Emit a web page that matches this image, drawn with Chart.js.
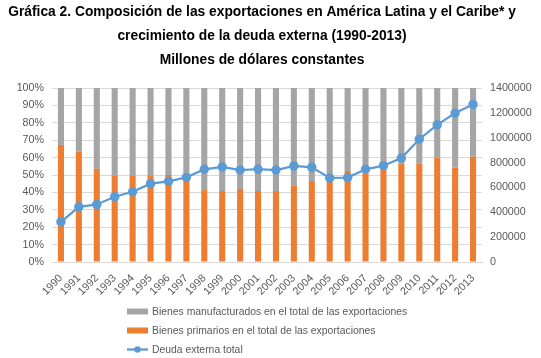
<!DOCTYPE html>
<html>
<head>
<meta charset="utf-8">
<script src="https://cdn.jsdelivr.net/npm/chart.js@4/dist/chart.umd.min.js"></script>
<style>
  html, body { margin: 0; padding: 0; background: #ffffff; }
  #wrap { width: 541px; height: 358px; position: relative; }
</style>
</head>
<body>
<div id="wrap"><canvas id="c" width="541" height="358"></canvas></div>
<script>
// ---- Data ----
const years = ['1990','1991','1992','1993','1994','1995','1996','1997','1998','1999','2000','2001',
               '2002','2003','2004','2005','2006','2007','2008','2009','2010','2011','2012','2013'];
// Share of primary goods in total exports (%)
const primarios = [67.3, 63.4, 53.5, 49.4, 49.4, 49.4, 50.0, 47.5, 41.3, 40.8, 41.9, 40.8,
                   40.8, 43.8, 46.5, 46.8, 52.3, 51.0, 54.3, 56.4, 56.4, 60.0, 54.2, 60.5];
// Share of manufactured goods in total exports (%)
const manufacturados = [32.7, 36.6, 46.5, 50.6, 50.6, 50.6, 50.0, 52.5, 58.7, 59.2, 58.1, 59.2,
                        59.2, 56.2, 53.5, 53.2, 47.7, 49.0, 45.7, 43.6, 43.6, 40.0, 45.8, 39.5];
// Total external debt (millions of constant dollars)
const deuda = [323000, 444000, 463000, 525000, 565000, 630000, 649000, 681000, 746000, 765000, 740000, 748000,
               740000, 773000, 762000, 676000, 679000, 746000, 775000, 837000, 988000, 1104000, 1198000, 1268000];
const titleLines = ['Gráfica 2. Composición de las exportaciones en América Latina y el Caribe* y',
                    'crecimiento de la deuda externa (1990-2013)',
                    'Millones de dólares constantes'];
const labels = {
  manuf: 'Bienes manufacturados en el total de las exportaciones',
  prim: 'Bienes primarios en el total de las exportaciones',
  deuda: 'Deuda externa total'
};

const FONT = '"Liberation Sans", Arial, sans-serif';
const TXT = '#595959';
const GRID = '#d9d9d9';

// custom vertical legend drawn on the canvas
const vLegend = {
  id: 'vLegend',
  afterLayout(chart) {
    // the original title is centred slightly left of the page centre
    if (chart.titleBlock) chart.titleBlock.right = chart.titleBlock.left + 524;
  },
  afterDraw(chart) {
    const ctx = chart.ctx;
    const ds = chart.data.datasets;
    const order = [1, 0, 2];
    const ys = [311.5, 330.5, 349.5];
    const x0 = 127, bw = 21;
    ctx.save();
    ctx.font = '10.4px ' + FONT;
    ctx.fillStyle = TXT;
    ctx.textBaseline = 'middle';
    order.forEach((i, k) => {
      const d = ds[i];
      const y = ys[k];
      if (d.type === 'line') {
        ctx.strokeStyle = d.borderColor;
        ctx.lineWidth = 2.25;
        ctx.beginPath(); ctx.moveTo(x0, y); ctx.lineTo(x0 + bw, y); ctx.stroke();
        ctx.fillStyle = d.pointBackgroundColor;
        ctx.beginPath(); ctx.arc(x0 + bw / 2, y, 3.2, 0, Math.PI * 2); ctx.fill();
      } else {
        ctx.fillStyle = d.backgroundColor;
        ctx.fillRect(x0, y - 3, bw, 6);
      }
      ctx.fillStyle = TXT;
      ctx.fillText(d.label, x0 + bw + 4, y + 0.5);
    });
    ctx.restore();
  }
};

new Chart(document.getElementById('c'), {
  data: {
    labels: years,
    datasets: [
      { type: 'bar', label: labels.prim, data: primarios, backgroundColor: '#ed7d31',
        yAxisID: 'y', stack: 's', order: 1, barPercentage: 0.34, categoryPercentage: 1 },
      { type: 'bar', label: labels.manuf, data: manufacturados, backgroundColor: '#a5a5a5',
        yAxisID: 'y', stack: 's', order: 1, barPercentage: 0.34, categoryPercentage: 1 },
      { type: 'line', label: labels.deuda, data: deuda, borderColor: '#5b9bd5', borderWidth: 2.25,
        pointBackgroundColor: '#5b9bd5', pointBorderColor: '#5b9bd5', pointRadius: 3.6,
        tension: 0, yAxisID: 'y1', order: 0 }
    ]
  },
  options: {
    responsive: false,
    animation: false,
    devicePixelRatio: 1,
    layout: { padding: { left: 0, right: 0, top: 0, bottom: 60 } },
    plugins: {
      legend: { display: false },
      tooltip: { enabled: false },
      title: {
        display: true,
        text: titleLines,
        color: '#000000',
        font: { family: FONT, size: 13.8, weight: 'bold', lineHeight: '24px' },
        padding: { top: 0, bottom: 16 }
      }
    },
    scales: {
      x: {
        stacked: true,
        grid: { display: false },
        border: { display: true, color: GRID },
        ticks: { color: TXT, font: { family: FONT, size: 10.7 }, minRotation: 45, maxRotation: 45,
                 padding: 2, autoSkip: false },
        afterFit(s) { s.height = 36; }
      },
      y: {
        stacked: true,
        min: 0, max: 100,
        position: 'left',
        grid: { color: GRID, drawTicks: false },
        border: { display: false },
        ticks: { stepSize: 10, color: TXT, font: { family: FONT, size: 10.7 }, padding: 8,
                 callback: v => v + '%' },
        afterFit(s) { s.width = 52; }
      },
      y1: {
        min: 0, max: 1400000,
        position: 'right',
        grid: { display: false, drawTicks: false },
        border: { display: false },
        ticks: { stepSize: 200000, color: TXT, font: { family: FONT, size: 10.7 }, padding: 8,
                 callback: v => String(v) },
        afterFit(s) { s.width = 59; }
      }
    }
  },
  plugins: [vLegend]
});
</script>
</body>
</html>
